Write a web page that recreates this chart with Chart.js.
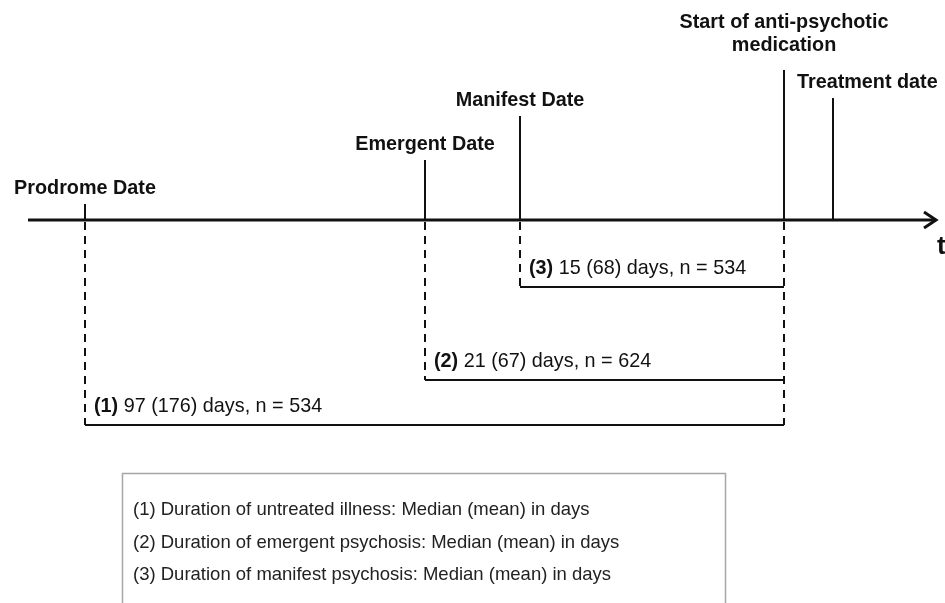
<!DOCTYPE html>
<html>
<head>
<meta charset="utf-8">
<script src="https://cdn.jsdelivr.net/npm/chart.js@4"></script>
<style>
  body { margin: 0; background: #fff; }
  #wrap { width: 945px; height: 603px; }
</style>
</head>
<body>
<div id="wrap"><canvas id="timeline" width="945" height="603"></canvas></div>
<script>
// events on the time axis
const eventNames = [['Prodrome Date'], ['Emergent Date'], ['Manifest Date'], ['Start of anti-psychotic', 'medication'], ['Treatment date']];
const eventPos = [85, 425, 520, 784, 833];
const eventHeight = [16, 60, 104, 150, 122];
const medIdx = 3;

// durations, each one runs from an event to the start of medication
const durNo = ['(1)', '(2)', '(3)'];
const durFrom = [0, 1, 2];
const durMedian = [97, 21, 15];
const durMean = [176, 67, 68];
const durN = [534, 624, 534];
const durLevel = [-205, -160, -67];

const legendLines = [
  '(1) Duration of untreated illness: Median (mean) in days',
  '(2) Duration of emergent psychosis: Median (mean) in days',
  '(3) Duration of manifest psychosis: Median (mean) in days'
];

const axisFrom = 28, axisTo = 936;
const ink = '#111';
const fontFam = '"Liberation Sans", Arial, sans-serif';

function seg(x1, y1, x2, y2, width, dash) {
  return {
    data: [{ x: x1, y: y1 }, { x: x2, y: y2 }],
    showLine: true,
    borderColor: ink,
    borderWidth: width,
    borderDash: dash || [],
    pointRadius: 0,
    clip: false
  };
}

var datasets = [];
datasets.push(seg(axisFrom, 0, axisTo, 0, 3));
eventPos.forEach(function (p, i) {
  datasets.push(seg(p, 0, p, eventHeight[i], 2));
});
var lowest = Math.min.apply(null, durLevel);
durFrom.forEach(function (e, i) {
  datasets.push(seg(eventPos[e], -2, eventPos[e], durLevel[i], 2, [8, 6]));
  datasets.push(seg(eventPos[e], durLevel[i], eventPos[medIdx], durLevel[i], 2));
});
datasets.push(seg(eventPos[medIdx], -2, eventPos[medIdx], lowest, 2, [8, 6]));

const textPlugin = {
  id: 'textPlugin',
  afterDraw: function (chart) {
    var ctx = chart.ctx;
    var xs = chart.scales.x, ys = chart.scales.y;
    var X = function (v) { return xs.getPixelForValue(v); };
    var Y = function (v) { return ys.getPixelForValue(v); };
    ctx.save();
    ctx.fillStyle = ink;
    ctx.strokeStyle = ink;

    // arrow head
    ctx.lineWidth = 3;
    ctx.beginPath();
    ctx.moveTo(X(axisTo) - 12, Y(0) - 8);
    ctx.lineTo(X(axisTo), Y(0));
    ctx.lineTo(X(axisTo) - 12, Y(0) + 8);
    ctx.stroke();

    ctx.font = 'bold 26px ' + fontFam;
    ctx.textAlign = 'left';
    ctx.textBaseline = 'middle';
    ctx.fillText('t', 937, Y(0) + 27);

    // event labels
    ctx.font = 'bold 19.8px ' + fontFam;
    eventNames.forEach(function (lines, i) {
      var top = Y(eventHeight[i]);
      var x = X(eventPos[i]);
      if (i === eventNames.length - 1) {
        ctx.textAlign = 'left';
        x = x - 36;
      } else {
        ctx.textAlign = 'center';
      }
      var n = lines.length - 1;
      lines.forEach(function (t, k) {
        var y = top - 15 - n * 9 - (n - k) * 23;
        ctx.fillText(t, x, y);
      });
    });

    // duration labels
    ctx.textAlign = 'left';
    durFrom.forEach(function (e, i) {
      var x = X(eventPos[e]) + 9;
      var y = Y(durLevel[i]) - 18;
      ctx.font = 'bold 19.8px ' + fontFam;
      ctx.fillText(durNo[i], x, y);
      var w = ctx.measureText(durNo[i] + ' ').width;
      ctx.font = '19.8px ' + fontFam;
      ctx.fillText(durMedian[i] + ' (' + durMean[i] + ') days, n = ' + durN[i], x + w, y);
    });

    // legend box
    ctx.strokeStyle = '#a6a6a6';
    ctx.lineWidth = 1.5;
    ctx.strokeRect(122.5, 473.5, 603, 140);
    ctx.font = '18.5px ' + fontFam;
    ctx.fillStyle = '#222';
    legendLines.forEach(function (t, k) {
      ctx.fillText(t, 133, 510 + k * 32.5);
    });
    ctx.restore();
  }
};

new Chart(document.getElementById('timeline'), {
  type: 'scatter',
  data: { datasets: datasets },
  options: {
    responsive: false,
    animation: false,
    events: [],
    layout: { padding: 0 },
    scales: {
      x: { type: 'linear', min: 0, max: 945, display: false },
      y: { type: 'linear', min: -383, max: 220, display: false }
    },
    plugins: { legend: { display: false }, tooltip: { enabled: false } }
  },
  plugins: [textPlugin]
});
</script>
</body>
</html>
